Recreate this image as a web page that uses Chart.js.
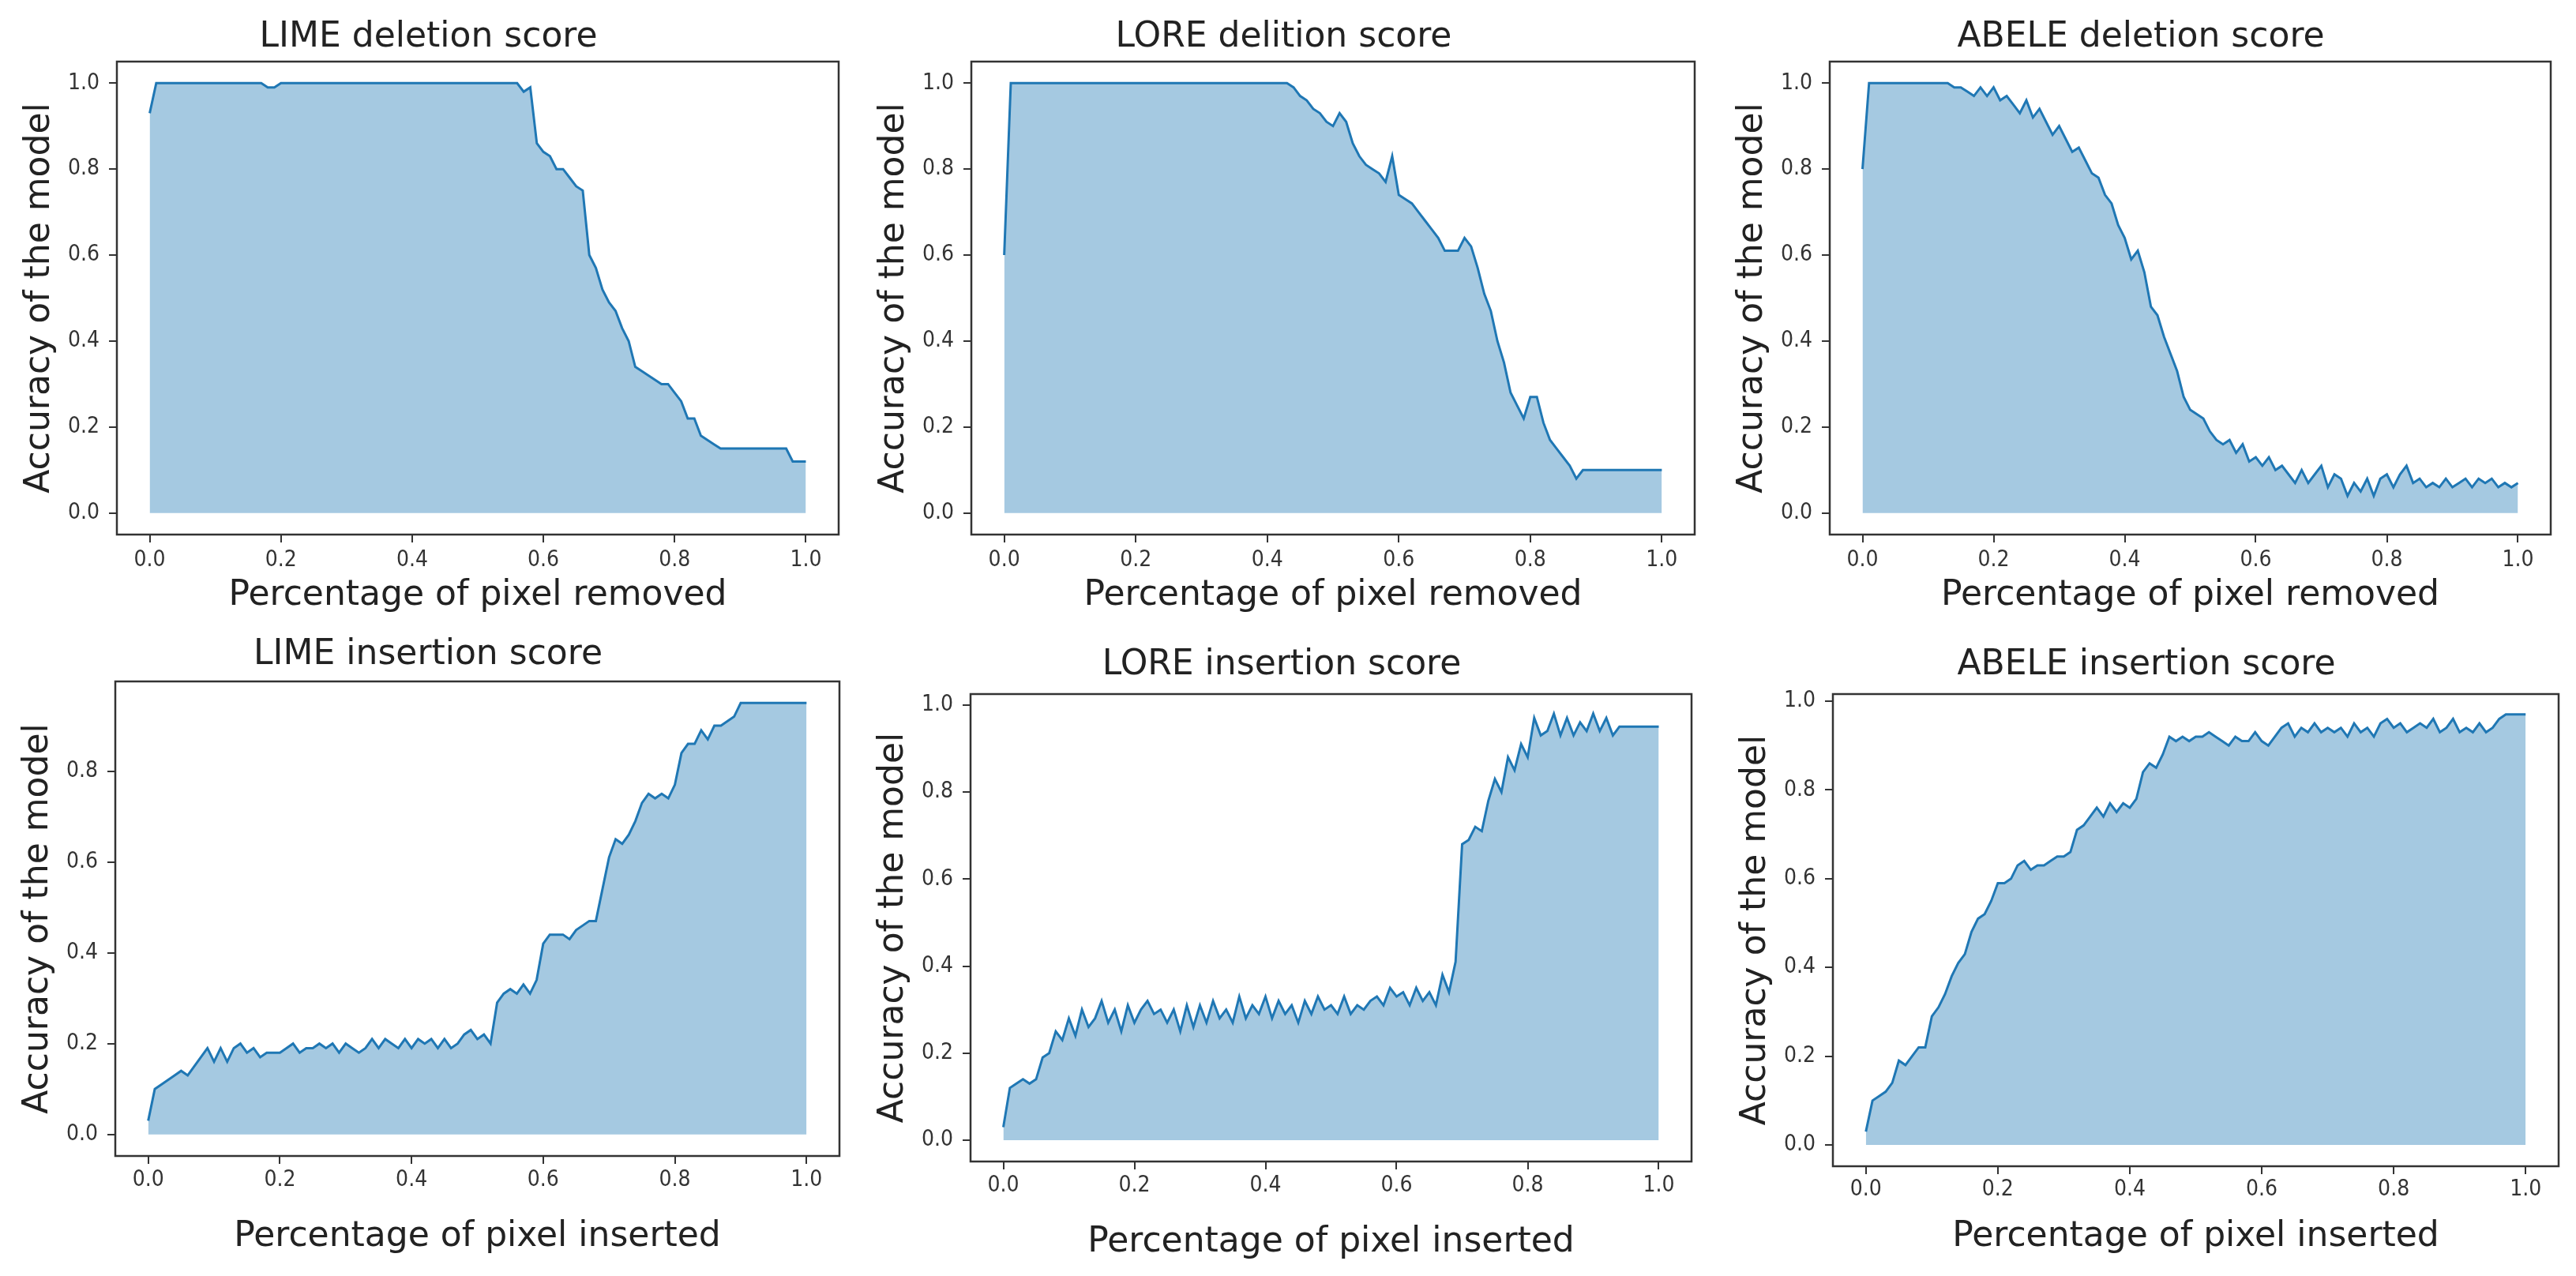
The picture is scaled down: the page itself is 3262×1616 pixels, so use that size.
<!DOCTYPE html>
<html>
<head>
<meta charset="utf-8">
<script src="https://cdn.jsdelivr.net/npm/chart.js@4.4.0/dist/chart.umd.min.js"></script>
<style>
  body { margin: 0; background: #fff; width: 3262px; height: 1616px; position: relative; overflow: hidden; }
  canvas { position: absolute; }
</style>
</head>
<body>
<script>
// fraction of pixels removed / inserted
var pct = [0,0.01,0.02,0.03,0.04,0.05,0.06,0.07,0.08,0.09,
  0.10,0.11,0.12,0.13,0.14,0.15,0.16,0.17,0.18,0.19,
  0.20,0.21,0.22,0.23,0.24,0.25,0.26,0.27,0.28,0.29,
  0.30,0.31,0.32,0.33,0.34,0.35,0.36,0.37,0.38,0.39,
  0.40,0.41,0.42,0.43,0.44,0.45,0.46,0.47,0.48,0.49,
  0.50,0.51,0.52,0.53,0.54,0.55,0.56,0.57,0.58,0.59,
  0.60,0.61,0.62,0.63,0.64,0.65,0.66,0.67,0.68,0.69,
  0.70,0.71,0.72,0.73,0.74,0.75,0.76,0.77,0.78,0.79,
  0.80,0.81,0.82,0.83,0.84,0.85,0.86,0.87,0.88,0.89,
  0.90,0.91,0.92,0.93,0.94,0.95,0.96,0.97,0.98,0.99,
  1.00];

var limeDel = [0.93,1,1,1,1,1,1,1,1,1,
  1,1,1,1,1,1,1,1,0.99,0.99,
  1,1,1,1,1,1,1,1,1,1,
  1,1,1,1,1,1,1,1,1,1,
  1,1,1,1,1,1,1,1,1,1,
  1,1,1,1,1,1,1,0.98,0.99,0.86,
  0.84,0.83,0.80,0.80,0.78,0.76,0.75,0.60,0.57,0.52,
  0.49,0.47,0.43,0.40,0.34,0.33,0.32,0.31,0.30,0.30,
  0.28,0.26,0.22,0.22,0.18,0.17,0.16,0.15,0.15,0.15,
  0.15,0.15,0.15,0.15,0.15,0.15,0.15,0.15,0.12,0.12,
  0.12];

var loreDel = [0.60,1,1,1,1,1,1,1,1,1,
  1,1,1,1,1,1,1,1,1,1,
  1,1,1,1,1,1,1,1,1,1,
  1,1,1,1,1,1,1,1,1,1,
  1,1,1,1,0.99,0.97,0.96,0.94,0.93,0.91,
  0.90,0.93,0.91,0.86,0.83,0.81,0.80,0.79,0.77,0.83,
  0.74,0.73,0.72,0.70,0.68,0.66,0.64,0.61,0.61,0.61,
  0.64,0.62,0.57,0.51,0.47,0.40,0.35,0.28,0.25,0.22,
  0.27,0.27,0.21,0.17,0.15,0.13,0.11,0.08,0.10,0.10,
  0.10,0.10,0.10,0.10,0.10,0.10,0.10,0.10,0.10,0.10,
  0.10];

var abeleDel = [0.80,1,1,1,1,1,1,1,1,1,
  1,1,1,1,0.99,0.99,0.98,0.97,0.99,0.97,
  0.99,0.96,0.97,0.95,0.93,0.96,0.92,0.94,0.91,0.88,
  0.90,0.87,0.84,0.85,0.82,0.79,0.78,0.74,0.72,0.67,
  0.64,0.59,0.61,0.56,0.48,0.46,0.41,0.37,0.33,0.27,
  0.24,0.23,0.22,0.19,0.17,0.16,0.17,0.14,0.16,0.12,
  0.13,0.11,0.13,0.10,0.11,0.09,0.07,0.10,0.07,0.09,
  0.11,0.06,0.09,0.08,0.04,0.07,0.05,0.08,0.04,0.08,
  0.09,0.06,0.09,0.11,0.07,0.08,0.06,0.07,0.06,0.08,
  0.06,0.07,0.08,0.06,0.08,0.07,0.08,0.06,0.07,0.06,
  0.07];

var limeIns = [0.03,0.10,0.11,0.12,0.13,0.14,0.13,0.15,0.17,0.19,
  0.16,0.19,0.16,0.19,0.20,0.18,0.19,0.17,0.18,0.18,
  0.18,0.19,0.20,0.18,0.19,0.19,0.20,0.19,0.20,0.18,
  0.20,0.19,0.18,0.19,0.21,0.19,0.21,0.20,0.19,0.21,
  0.19,0.21,0.20,0.21,0.19,0.21,0.19,0.20,0.22,0.23,
  0.21,0.22,0.20,0.29,0.31,0.32,0.31,0.33,0.31,0.34,
  0.42,0.44,0.44,0.44,0.43,0.45,0.46,0.47,0.47,0.54,
  0.61,0.65,0.64,0.66,0.69,0.73,0.75,0.74,0.75,0.74,
  0.77,0.84,0.86,0.86,0.89,0.87,0.90,0.90,0.91,0.92,
  0.95,0.95,0.95,0.95,0.95,0.95,0.95,0.95,0.95,0.95,
  0.95];

var loreIns = [0.03,0.12,0.13,0.14,0.13,0.14,0.19,0.20,0.25,0.23,
  0.28,0.24,0.30,0.26,0.28,0.32,0.27,0.30,0.25,0.31,
  0.27,0.30,0.32,0.29,0.30,0.27,0.30,0.25,0.31,0.26,
  0.31,0.27,0.32,0.28,0.30,0.27,0.33,0.28,0.31,0.29,
  0.33,0.28,0.32,0.29,0.31,0.27,0.32,0.29,0.33,0.30,
  0.31,0.29,0.33,0.29,0.31,0.30,0.32,0.33,0.31,0.35,
  0.33,0.34,0.31,0.35,0.32,0.34,0.31,0.38,0.34,0.41,
  0.68,0.69,0.72,0.71,0.78,0.83,0.80,0.88,0.85,0.91,
  0.88,0.97,0.93,0.94,0.98,0.93,0.97,0.93,0.96,0.94,
  0.98,0.94,0.97,0.93,0.95,0.95,0.95,0.95,0.95,0.95,
  0.95];

var abeleIns = [0.03,0.10,0.11,0.12,0.14,0.19,0.18,0.20,0.22,0.22,
  0.29,0.31,0.34,0.38,0.41,0.43,0.48,0.51,0.52,0.55,
  0.59,0.59,0.60,0.63,0.64,0.62,0.63,0.63,0.64,0.65,
  0.65,0.66,0.71,0.72,0.74,0.76,0.74,0.77,0.75,0.77,
  0.76,0.78,0.84,0.86,0.85,0.88,0.92,0.91,0.92,0.91,
  0.92,0.92,0.93,0.92,0.91,0.90,0.92,0.91,0.91,0.93,
  0.91,0.90,0.92,0.94,0.95,0.92,0.94,0.93,0.95,0.93,
  0.94,0.93,0.94,0.92,0.95,0.93,0.94,0.92,0.95,0.96,
  0.94,0.95,0.93,0.94,0.95,0.94,0.96,0.93,0.94,0.96,
  0.93,0.94,0.93,0.95,0.93,0.94,0.96,0.97,0.97,0.97,
  0.97];

var titles = ['LIME deletion score', 'LORE delition score', 'ABELE deletion score',
  'LIME insertion score', 'LORE insertion score', 'ABELE insertion score'];
var xTitles = ['Percentage of pixel removed', 'Percentage of pixel removed', 'Percentage of pixel removed',
  'Percentage of pixel inserted', 'Percentage of pixel inserted', 'Percentage of pixel inserted'];
var yTitle = 'Accuracy of the model';
var xTicks = [0, 0.2, 0.4, 0.6, 0.8, 1.0];
var yTicksFull = [0, 0.2, 0.4, 0.6, 0.8, 1.0];
var yTicksShort = [0, 0.2, 0.4, 0.6, 0.8];
var series = [limeDel, loreDel, abeleDel, limeIns, loreIns, abeleIns];
var yTickSets = [yTicksFull, yTicksFull, yTicksFull, yTicksShort, yTicksFull, yTicksFull];
var yLimits = [[-0.05, 1.05], [-0.05, 1.05], [-0.05, 1.05], [-0.0475, 0.9975], [-0.049, 1.025], [-0.048, 1.016]];

// layout of each axes box on the page (left, right, top, bottom) and text rows
var panels = [
  {L: 148,  R: 1062, T: 78,  B: 677,  titleY: 48,  tickY: 710,  labelY: 755},
  {L: 1230, R: 2146, T: 78,  B: 677,  titleY: 48,  tickY: 710,  labelY: 755},
  {L: 2317, R: 3230, T: 78,  B: 677,  titleY: 48,  tickY: 710,  labelY: 755},
  {L: 146,  R: 1063, T: 863, B: 1464, titleY: 830, tickY: 1495, labelY: 1567},
  {L: 1229, R: 2142, T: 879, B: 1471, titleY: 843, tickY: 1502, labelY: 1574},
  {L: 2321, R: 3240, T: 879, B: 1477, titleY: 843, tickY: 1507, labelY: 1567}
];

var BIG = 44, SMALL = 28, YW = 125, PADR = 20, TICKLEN = 10;
var bigLH = BIG * 1.2, smallLH = SMALL * 1.2;

var framePlugin = {
  id: 'frame',
  afterDraw: function(chart) {
    var a = chart.chartArea, ctx = chart.ctx;
    ctx.save();
    ctx.strokeStyle = '#333';
    ctx.lineWidth = 2.5;
    ctx.strokeRect(a.left, a.top, a.right - a.left, a.bottom - a.top);
    ctx.restore();
  }
};

function drawPanel(i) {
  var p = panels[i];
  var top = Math.round(p.titleY - 30);
  var bottom = Math.round(p.labelY + bigLH / 2 + 3);
  var left = p.L - YW;
  var width = (p.R - p.L) + YW + PADR;
  var height = bottom - top;
  var titlePadTop = p.titleY - bigLH / 2 - top;
  var titlePadBottom = p.T - top - titlePadTop - bigLH;
  var xAxisH = bottom - p.B;
  var xTickPad = p.tickY - p.B - TICKLEN - smallLH / 2;

  var cv = document.createElement('canvas');
  cv.width = width; cv.height = height;
  cv.style.left = left + 'px'; cv.style.top = top + 'px';
  cv.style.width = width + 'px'; cv.style.height = height + 'px';
  document.body.appendChild(cv);

  var vals = series[i];
  var pts = pct.map(function(x, k) { return {x: x, y: vals[k]}; });
  var yt = yTickSets[i];

  new Chart(cv.getContext('2d'), {
    type: 'line',
    data: {
      datasets: [{
        data: pts,
        borderColor: '#1f77b4',
        borderWidth: 3,
        backgroundColor: 'rgba(31,119,180,0.4)',
        fill: 'origin',
        pointRadius: 0,
        tension: 0
      }]
    },
    options: {
      responsive: false,
      animation: false,
      devicePixelRatio: 1,
      layout: {padding: {left: 0, right: PADR, top: 0, bottom: 0}},
      plugins: {
        legend: {display: false},
        tooltip: {enabled: false},
        title: {
          display: true,
          text: titles[i],
          color: '#222',
          font: {family: 'DejaVu Sans', size: BIG, weight: 'normal'},
          padding: {top: titlePadTop, bottom: titlePadBottom}
        }
      },
      scales: {
        x: {
          type: 'linear',
          min: -0.05, max: 1.05,
          afterBuildTicks: function(s) { s.ticks = xTicks.map(function(v) { return {value: v}; }); },
          afterFit: function(s) { s.height = xAxisH; },
          ticks: {
            autoSkip: false, maxRotation: 0, padding: xTickPad, color: '#333',
            font: {family: '"DejaVu Sans Condensed", "DejaVu Sans"', size: SMALL},
            callback: function(v) { return v.toFixed(1); }
          },
          grid: {drawOnChartArea: false, drawTicks: true, tickLength: TICKLEN, color: '#333', lineWidth: 2},
          border: {display: false},
          title: {
            display: true, text: xTitles[i], color: '#222',
            font: {family: 'DejaVu Sans', size: BIG},
            padding: {top: 0, bottom: 3}
          }
        },
        y: {
          type: 'linear',
          min: yLimits[i][0], max: yLimits[i][1],
          afterBuildTicks: function(s) { s.ticks = yt.map(function(v) { return {value: v}; }); },
          afterFit: function(s) { s.width = YW; },
          ticks: {
            autoSkip: false, padding: 12, color: '#333',
            font: {family: '"DejaVu Sans Condensed", "DejaVu Sans"', size: SMALL},
            callback: function(v) { return v.toFixed(1); }
          },
          grid: {drawOnChartArea: false, drawTicks: true, tickLength: TICKLEN, color: '#333', lineWidth: 2},
          border: {display: false},
          title: {
            display: true, text: yTitle, color: '#222',
            font: {family: 'DejaVu Sans', size: BIG},
            padding: {top: 1.6, bottom: 0}
          }
        }
      }
    },
    plugins: [framePlugin]
  });
}

for (var i = 0; i < panels.length; i++) {
  drawPanel(i);
}
</script>
</body>
</html>
